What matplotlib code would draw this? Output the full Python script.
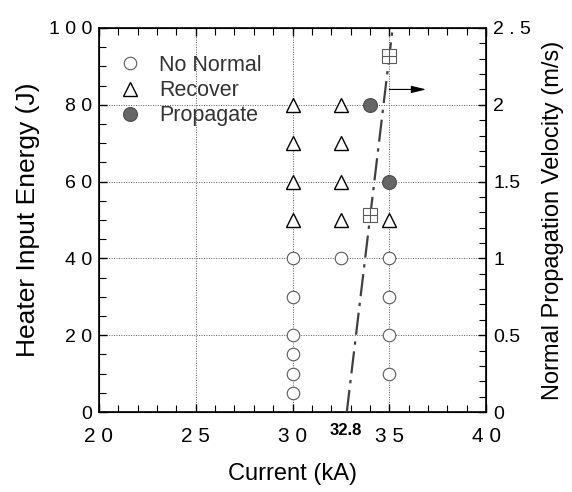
import matplotlib
matplotlib.use("Agg")
import matplotlib.pyplot as plt
import numpy as np
from matplotlib.ticker import MultipleLocator

plt.rcParams['font.family'] = ['Liberation Sans', 'DejaVu Sans']

# Data
no_normal_I = [30, 30, 30, 30, 30, 30, 32.5, 35, 35, 35, 35]
no_normal_E = [5, 10, 15, 20, 30, 40, 40, 10, 20, 30, 40]
recover_I = [30, 30, 30, 30, 32.5, 32.5, 32.5, 32.5, 35]
recover_E = [50, 60, 70, 80, 50, 60, 70, 80, 50]
propagate_I = [34, 35]
propagate_E = [80, 60]
vel_I = [34, 35]
vel_V = [1.28, 2.32]
fit_I = [32.8, 35.17]
fit_V = [0.0, 2.5]

x_ticks = [20, 25, 30, 35, 40]
x_ticklabels = ["2 0", "2 5", "3 0", "3 5", "4 0"]
y_ticks = [0, 20, 40, 60, 80, 100]
y_ticklabels = ["0", "2 0", "4 0", "6 0", "8 0", "1 0 0"]
v_ticks = [0, 0.5, 1, 1.5, 2, 2.5]
v_ticklabels = ["0", "0.5", "1", "1.5", "2", "2 . 5"]

fig = plt.figure(figsize=(5.72, 4.92), dpi=100)
ax = fig.add_axes([0.173, 0.1626, 0.677, 0.7805])
ax.set_xlim(20, 40)
ax.set_ylim(0, 100)

# grid
for x in [25, 30, 35]:
    ax.axvline(x, color='0.35', lw=0.7, ls=(0, (1, 1.5)), zorder=1)
for y in [20, 40, 60, 80]:
    ax.axhline(y, color='0.35', lw=0.7, ls=(0, (1, 1.5)), zorder=1)

ms = 9
ax.plot(no_normal_I, no_normal_E, 'o', ms=ms, mfc='white', mec='0.35', mew=0.8, ls='none', zorder=3, label='No Normal')
ax.plot(recover_I, recover_E, '^', ms=ms + 1, mfc='white', mec='black', mew=1.0, ls='none', zorder=3, label='Recover')
ax.plot(propagate_I, propagate_E, 'o', ms=ms + 1, mfc='0.4', mec='0.3', mew=0.8, ls='none', zorder=3, label='Propagate')

ax.set_xticks(x_ticks)
ax.set_xticklabels(x_ticklabels)
ax.set_yticks(y_ticks)
ax.set_yticklabels(y_ticklabels)
ax.xaxis.set_minor_locator(MultipleLocator(1))
ax.yaxis.set_minor_locator(MultipleLocator(5))
ax.tick_params(axis='both', which='both', direction='in', top=True, right=False)
ax.tick_params(axis='both', which='major', length=6, width=1)
ax.tick_params(axis='both', which='minor', length=5, width=0.8)
ax.tick_params(axis='x', pad=11, labelsize=15)
ax.tick_params(axis='y', pad=5, labelsize=14)
for s in ax.spines.values():
    s.set_linewidth(1.2)

ax.text(32.75, -2.8, "32.8", ha='center', va='top', fontsize=12, fontweight='bold')

ax.set_xlabel("Current (kA)", fontsize=17, labelpad=12)
ax.set_ylabel("Heater Input Energy (J)", fontsize=19, labelpad=6)

leg = ax.legend(loc='upper left', bbox_to_anchor=(0.0, 0.975), frameon=False, fontsize=15.5,
                handletextpad=0.7, labelspacing=0.2, borderaxespad=0.4, handlelength=1.3)
for t in leg.get_texts():
    t.set_color('0.2')

ax2 = ax.twinx()
ax2.set_ylim(0, 2.5)
ax2.set_yticks(v_ticks)
ax2.set_yticklabels(v_ticklabels)
ax2.yaxis.set_minor_locator(MultipleLocator(0.1))
ax2.tick_params(axis='y', which='both', direction='in', labelsize=14, pad=5)
ax2.tick_params(axis='y', which='major', length=6, width=1)
ax2.tick_params(axis='y', which='minor', length=5, width=0.8)
ax2.set_ylabel("Normal Propagation Velocity (m/s)", fontsize=17, labelpad=8)

ax2.plot(fit_I, fit_V, color='0.25', lw=1.6, ls=(0, (10, 3, 1.5, 3)), zorder=2)
ax2.plot(vel_I, vel_V, 's', ms=ms + 1, mfc='white', mec='0.35', mew=0.8, ls='none', zorder=4)
ax2.plot(vel_I, vel_V, '+', ms=ms + 1, mec='0.35', mew=0.8, ls='none', zorder=5)
ax2.annotate("", xy=(36.9, 2.1), xytext=(35.0, 2.1),
             arrowprops=dict(arrowstyle='-|>,head_length=0.9,head_width=0.22', color='black',
                             lw=0.8, mutation_scale=10, shrinkA=0, shrinkB=0))

fig.savefig("out.png", dpi=100)
